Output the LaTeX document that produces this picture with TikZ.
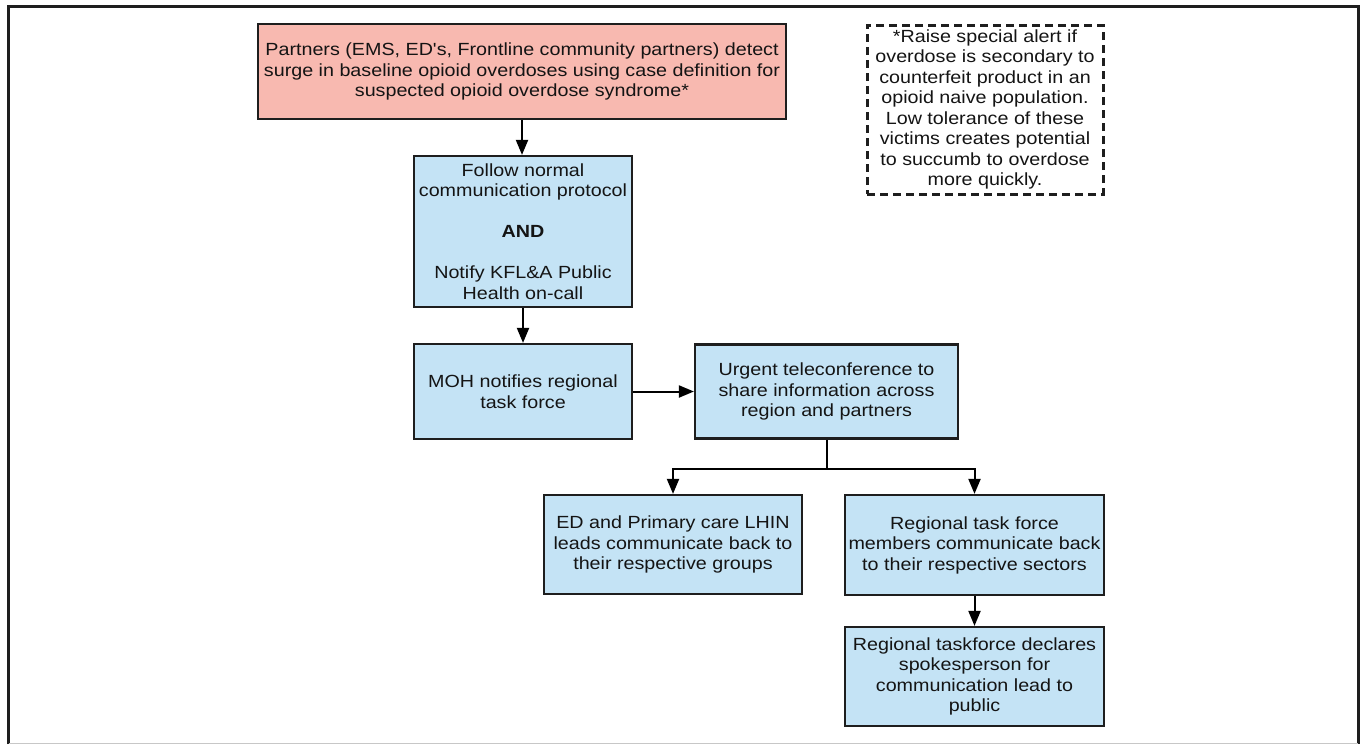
\documentclass[tikz,border=0pt]{standalone}
\usepackage{fontspec}
\setmainfont{Liberation Sans}[FakeStretch=1.12, Ligatures=TeXOff]
\usetikzlibrary{arrows.meta}
\definecolor{redfill}{RGB}{248,185,176}
\definecolor{bluefill}{RGB}{196,227,245}
\definecolor{edge}{RGB}{30,30,30}
\begin{document}
\begin{tikzpicture}[x=1pt,y=-1pt,
  base/.style={draw=edge, line width=2.2pt, inner sep=0pt, align=center,
    font=\fontsize{17.6}{20.5}\selectfont, text=black!92},
  bluebox/.style={base, fill=bluefill},
  redbox/.style={base, fill=redfill},
  notebox/.style={base, fill=white, dash pattern=on 8pt off 5pt, line width=3pt},
  conn/.style={draw=black, line width=2pt},
  arr/.style={conn, -{Triangle[length=15pt,width=12pt]}}]
\useasboundingbox (0,0) rectangle (1364,744);
% frame
\draw[line width=3pt, edge] (8.5,744) -- (8.5,6.5) -- (1358,6.5) -- (1358,744);
\draw[line width=1pt, black!22] (8.5,743) -- (1358,743);
% nodes
\node[redbox, minimum width=528, minimum height=95] (red) at (522,71.5)
  {Partners (EMS, ED's, Frontline community partners) detect\\
   surge in baseline opioid overdoses using case definition for\\
   suspected opioid overdose syndrome*};
\node[notebox, minimum width=236, minimum height=169] (note) at (985,109.5)
  {*Raise special alert if\\ overdose is secondary to\\ counterfeit product in an\\
   opioid naive population.\\ Low tolerance of these\\ victims creates potential\\
   to succumb to overdose\\ more quickly.};
\node[bluebox, minimum width=218, minimum height=151] (b1) at (523,231.5)
  {Follow normal\\ communication protocol\\[20.5pt] \textbf{AND}\\[20.5pt]
   Notify KFL\&A Public\\ Health on-call};
\node[bluebox, minimum width=218, minimum height=95] (moh) at (523,391.5)
  {MOH notifies regional\\ task force};
\node[bluebox, minimum width=263, minimum height=94] (urg) at (826.5,391.5)
  {Urgent teleconference to\\ share information across\\ region and partners};
\node[bluebox, minimum width=258, minimum height=99] (ed) at (673,544.5)
  {ED and Primary care LHIN\\ leads communicate back to\\ their respective groups};
\node[bluebox, minimum width=259, minimum height=100] (rtf) at (974.5,545)
  {Regional task force\\ members communicate back\\ to their respective sectors};
\node[bluebox, minimum width=259, minimum height=99] (rdec) at (974.5,676.5)
  {Regional taskforce declares\\ spokesperson for\\ communication lead to\\ public};
% connectors
\draw[arr] (red.south) -- (red.south |- b1.north);
\draw[arr] (b1.south) -- (moh.north);
\draw[arr] (moh.east) -- (urg.west);
\coordinate (j) at ([yshift=-29pt]urg.south);
\draw[conn] (urg.south) -- (j);
\draw[arr] (j) -| (ed.north);
\draw[arr] (j) -| (rtf.north);
\draw[arr] (rtf.south) -- (rdec.north);
\end{tikzpicture}
\end{document}
